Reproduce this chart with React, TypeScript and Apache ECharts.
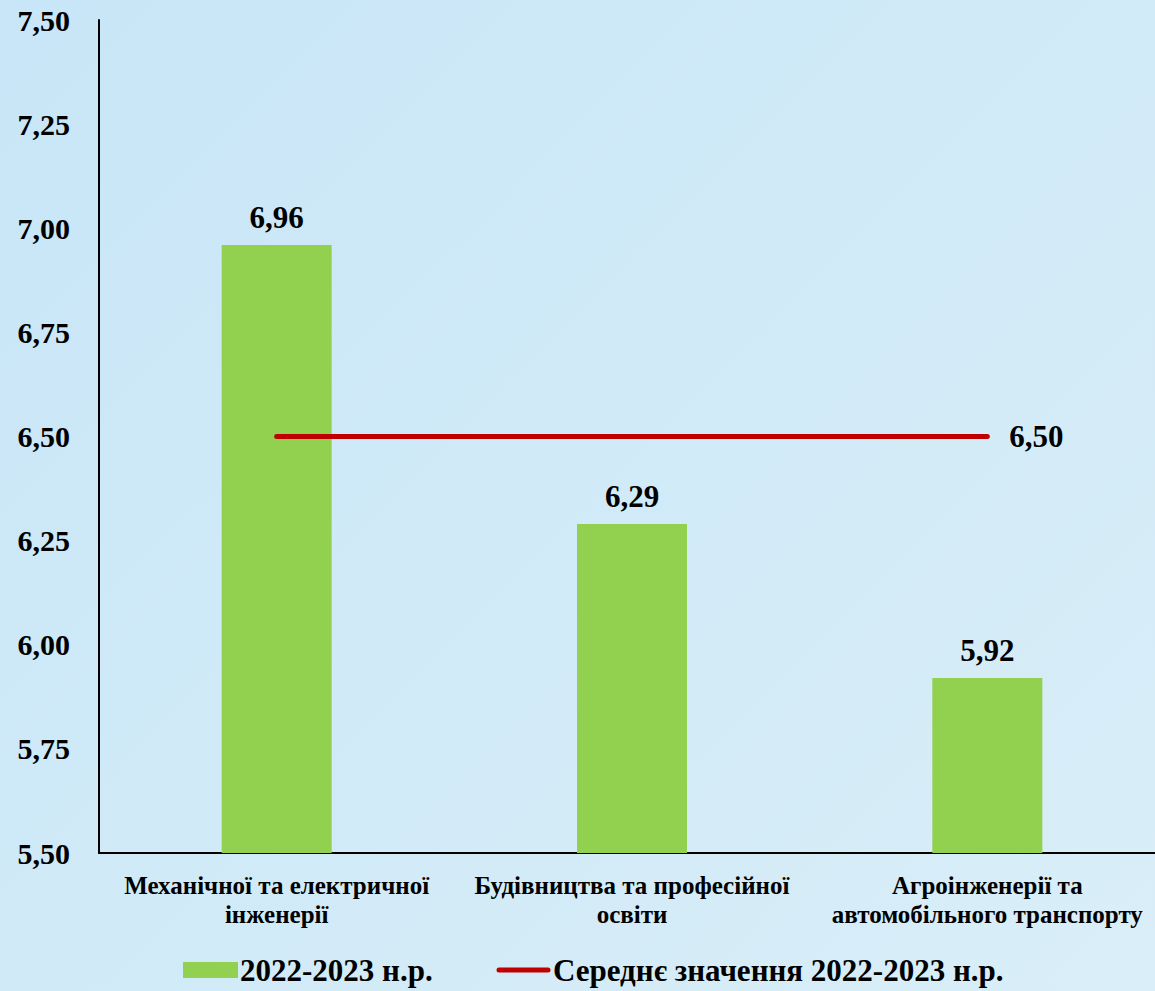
import React, { useEffect, useRef } from "react";
import * as echarts from "echarts";

const categories = [
  "Механічної та електричної\nінженерії",
  "Будівництва та професійної\nосвіти",
  "Агроінженерії та\nавтомобільного транспорту",
];
const barValues = [6.96, 6.29, 5.92];
const avgValue = 6.5;
const avgValues = [avgValue, avgValue, avgValue];
const barName = "2022-2023 н.р.";
const lineName = "Середнє значення 2022-2023 н.р.";

const FONT = "Liberation Serif";
const fmt = (v: number) => v.toFixed(2).replace(".", ",");

export default function App() {
  const ref = useRef<HTMLDivElement>(null);
  useEffect(() => {
    if (!ref.current) return;
    document.body.style.margin = "0";
    const chart = echarts.init(ref.current, undefined, { renderer: "svg" });
    chart.setOption({
      animation: false,
      grid: { left: 99, top: 20, right: 0, bottom: 138 },
      graphic: [
        {
          type: "rect",
          shape: { x: 183, y: 962, width: 55, height: 16 },
          style: { fill: "#92d050" },
        },
        {
          type: "text",
          x: 240,
          y: 970,
          style: {
            text: barName,
            fontFamily: FONT,
            fontSize: 31,
            fontWeight: "bold",
            fill: "#000",
            align: "left",
            verticalAlign: "middle",
          },
        },
        {
          type: "line",
          shape: { x1: 499, y1: 970, x2: 548, y2: 970 },
          style: { stroke: "#c00000", lineWidth: 5, lineCap: "round" },
        },
        {
          type: "text",
          x: 553,
          y: 970,
          style: {
            text: lineName,
            fontFamily: FONT,
            fontSize: 31,
            fontWeight: "bold",
            fill: "#000",
            align: "left",
            verticalAlign: "middle",
          },
        },
      ],
      xAxis: {
        type: "category",
        data: categories,
        axisLine: { lineStyle: { color: "#000", width: 2 } },
        axisTick: { show: false },
        axisLabel: {
          interval: 0,
          margin: 18,
          fontFamily: FONT,
          fontSize: 25,
          fontWeight: "bold",
          color: "#000",
          lineHeight: 29,
        },
      },
      yAxis: {
        type: "value",
        min: 5.5,
        max: 7.5,
        interval: 0.25,
        splitLine: { show: false },
        axisTick: { show: false },
        axisLine: { show: true, lineStyle: { color: "#000", width: 2 } },
        axisLabel: {
          formatter: (v: number) => fmt(v),
          margin: 29,
          fontFamily: FONT,
          fontSize: 30,
          fontWeight: "bold",
          color: "#000",
        },
      },
      series: [
        {
          name: barName,
          type: "bar",
          data: barValues,
          barWidth: 110,
          itemStyle: { color: "#92d050" },
          label: {
            show: true,
            position: "top",
            distance: 12,
            formatter: (p: any) => fmt(p.value),
            fontFamily: FONT,
            fontSize: 31,
            fontWeight: "bold",
            color: "#000",
          },
        },
        {
          name: lineName,
          type: "line",
          data: avgValues,
          symbol: "none",
          showSymbol: false,
          itemStyle: { color: "#c00000" },
          lineStyle: { color: "#c00000", width: 5, cap: "round" },
          endLabel: {
            show: true,
            distance: 22,
            formatter: (p: any) => fmt(p.value),
            fontFamily: FONT,
            fontSize: 31,
            fontWeight: "bold",
            color: "#000",
          },
        },
      ],
    });
    return () => chart.dispose();
  }, []);
  return (
    <div
      style={{
        width: 1155,
        height: 991,
        overflow: "hidden",
        background: "linear-gradient(135deg, #c8e6f7 0%, #d9eef8 100%)",
      }}
    >
      <div ref={ref} style={{ width: 1165, height: 991 }} />
    </div>
  );
}
